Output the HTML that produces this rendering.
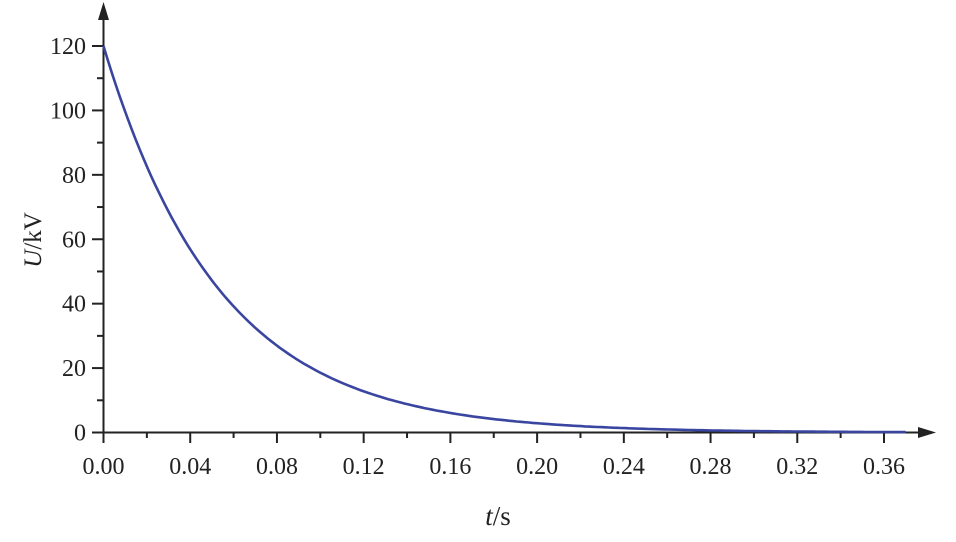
<!DOCTYPE html>
<html><head><style>body{margin:0;background:#fff}svg{display:block}text{font-family:"Liberation Serif",serif;fill:#222}</style></head>
<body>
<svg id="s" width="956" height="542" viewBox="0 0 956 542">
<g stroke="#222" stroke-width="2" fill="none">
<line x1="103.5" y1="432" x2="103.5" y2="14"/>
<line x1="92" y1="432.5" x2="925" y2="432.5"/>
</g>
<polygon points="103.5,2 98,20 109,20" fill="#222"/>
<polygon points="936,432.5 918,427 918,438" fill="#222"/>
<g id="ticks" stroke="#222" stroke-width="2"></g>
<g id="lbl" font-size="24"></g>
<text x="498" y="525" font-size="27" text-anchor="middle"><tspan font-style="italic">t</tspan>/s</text>
<text transform="translate(41,240) rotate(-90)" font-size="25" text-anchor="middle"><tspan font-style="italic">U</tspan>/kV</text>
<path id="c" fill="none" stroke="#3a45a0" stroke-width="2.6"/>
</svg>
<script>
var ns="http://www.w3.org/2000/svg",t=document.getElementById('ticks'),l=document.getElementById('lbl');
function L(x1,y1,x2,y2){var e=document.createElementNS(ns,'line');e.setAttribute('x1',x1);e.setAttribute('y1',y1);e.setAttribute('x2',x2);e.setAttribute('y2',y2);t.appendChild(e);}
function T(x,y,s,a){var e=document.createElementNS(ns,'text');e.setAttribute('x',x);e.setAttribute('y',y);e.setAttribute('text-anchor',a);e.textContent=s;l.appendChild(e);}
var X0=103.5,XS=(884-103.5)/0.36,Y0=432.5,YS=(432.5-46)/120;
for(var i=0;i<=18;i++){var x=X0+i*0.02*XS;if(i%2==0){L(x,432,x,443);T(x,474,(i*0.02).toFixed(2),'middle');}else L(x,432,x,438);}
for(var j=0;j<=12;j++){var y=Y0-j*10*YS;if(j%2==0){L(92,y,104,y);T(86,y+8,String(j*10),'end');}else L(97,y,104,y);}
var d='';for(var k=0;k<=200;k++){var tt=0.37*k/200,u=120*Math.exp(-tt/0.0536);d+=(k?'L':'M')+(X0+tt*XS).toFixed(1)+','+(Y0-u*YS).toFixed(1);}
document.getElementById('c').setAttribute('d',d);
</script>
</body></html>
